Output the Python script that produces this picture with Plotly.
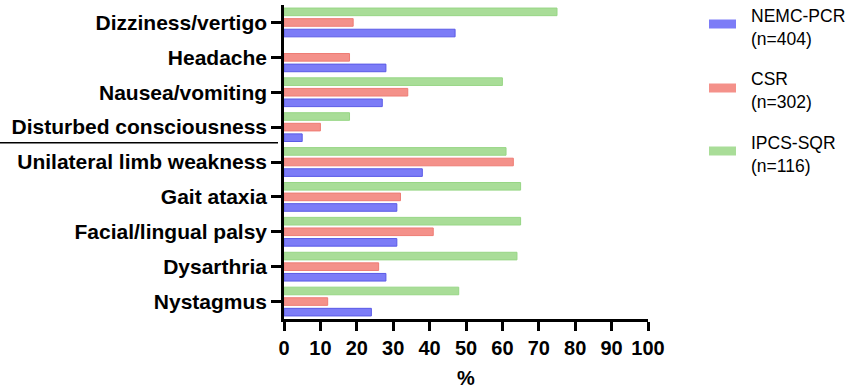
import plotly.graph_objects as go

categories = ["Dizziness/vertigo", "Headache", "Nausea/vomiting", "Disturbed consciousness",
              "Unilateral limb weakness", "Gait ataxia", "Facial/lingual palsy", "Dysarthria", "Nystagmus"]
nemc_pcr = [47, 28, 27, 5, 38, 31, 31, 28, 24]
csr = [19, 18, 34, 10, 63, 32, 41, 26, 12]
ipcs_sqr = [75, None, 60, 18, 61, 65, 65, 64, 48]
x_ticks = list(range(0, 101, 10))

series = [
    ("NEMC-PCR<br>(n=404)", nemc_pcr, "#7C7CF7", "#5A5AE6"),
    ("CSR<br>(n=302)", csr, "#F4918A", "#EE7C74"),
    ("IPCS-SQR<br>(n=116)", ipcs_sqr, "#A9DD98", "#97D685"),
]

FONT = "Liberation Sans, Arial, sans-serif"
W, H = 850, 389
ML, MR, MT, MB = 284, 202, 5, 70

fig = go.Figure()
for name, vals, fill, edge in series:
    fig.add_trace(go.Bar(
        y=categories, x=vals, orientation="h", name=name,
        marker=dict(color=fill, line=dict(color=edge, width=1)),
        showlegend=False,
    ))

fig.update_layout(
    width=W, height=H,
    margin=dict(l=ML, r=MR, t=MT, b=MB, autoexpand=False),
    paper_bgcolor="white", plot_bgcolor="white",
    barmode="group", bargap=0.09, bargroupgap=0.28,
    font=dict(family=FONT, color="black"),
)
fig.update_xaxes(
    range=[0, 100], tickvals=x_ticks, ticktext=[str(v) for v in x_ticks],
    showgrid=False, zeroline=False, automargin=False,
    showline=True, linecolor="black", linewidth=2.5,
    ticks="outside", ticklen=9, tickwidth=2.5, tickcolor="black",
    tickfont=dict(size=20, family=FONT, weight="bold"),
)
fig.update_yaxes(
    categoryorder="array", categoryarray=categories[::-1],
    range=[-0.5, 8.5], automargin=False,
    showgrid=False, zeroline=False,
    showline=True, linecolor="black", linewidth=2.5,
    ticks="outside", ticklen=10, tickwidth=2.5, tickcolor="black",
    tickfont=dict(size=21, family=FONT, weight="bold"),
)

pw = W - ML - MR
ph = H - MT - MB
def px_x(x):
    return (x - ML) / pw
def px_y(y):
    return 1 - (y - MT) / ph

# x-axis title
fig.add_annotation(xref="paper", yref="paper", x=px_x(466), y=px_y(378),
                   text="<b>%</b>", showarrow=False, xanchor="center", yanchor="middle",
                   font=dict(size=20, family=FONT, color="black"))

# separator line under "Disturbed consciousness"
fig.add_shape(type="line", xref="paper", yref="y",
              x0=px_x(0), x1=px_x(278), y0=4.55, y1=4.55,
              line=dict(color="black", width=1.5))

# manual legend
legend_pos = [(24, 28), (88, 90), (151, 154)]
for (name, vals, fill, edge), (sy, ty) in zip(series, legend_pos):
    fig.add_shape(type="rect", xref="paper", yref="paper",
                  x0=px_x(709), x1=px_x(736), y0=px_y(sy + 4.5), y1=px_y(sy - 4.5),
                  fillcolor=fill, line=dict(color=fill, width=0))
    fig.add_annotation(xref="paper", yref="paper", x=px_x(749), y=px_y(ty),
                       text=name, showarrow=False, xanchor="left", yanchor="middle",
                       align="left", font=dict(size=17.5, family=FONT, color="black"))

fig.write_html("out.html", config={"displayModeBar": False},
               post_script="document.body.style.margin='0';document.body.style.overflow='hidden';")
